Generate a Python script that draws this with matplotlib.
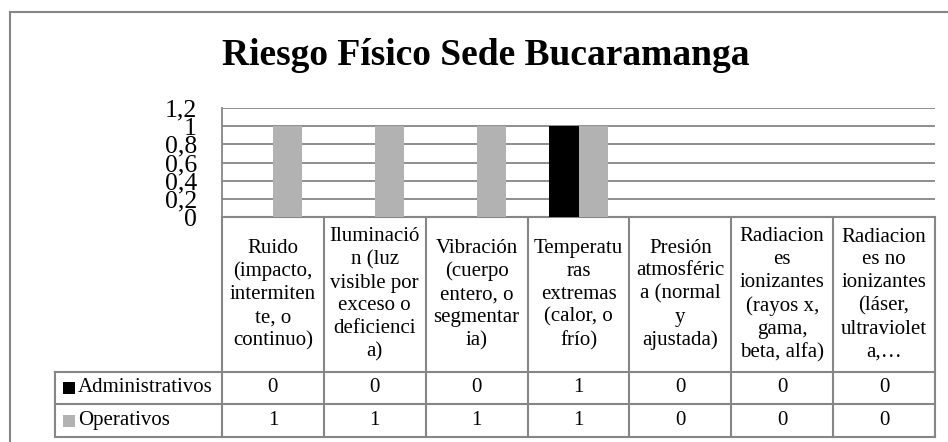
import matplotlib
matplotlib.use("Agg")
import matplotlib.pyplot as plt
from matplotlib import transforms
from matplotlib.lines import Line2D
from matplotlib.patches import Rectangle

# data
categories = [
    "Ruido\n(impacto,\nintermiten\nte, o\ncontinuo)",
    "Iluminació\nn (luz\nvisible por\nexceso o\ndeficienci\na)",
    "Vibración\n(cuerpo\nentero, o\nsegmentar\nia)",
    "Temperatu\nras\nextremas\n(calor, o\nfrío)",
    "Presión\natmosféric\na (normal\ny\najustada)",
    "Radiacion\nes\nionizantes\n(rayos x,\ngama,\nbeta, alfa)",
    "Radiacion\nes no\nionizantes\n(láser,\nultraviolet\na,…",
]
series_names = ["Administrativos", "Operativos"]
administrativos = [0, 0, 0, 1, 0, 0, 0]
operativos = [1, 1, 1, 1, 0, 0, 0]
yticks = [0, 0.2, 0.4, 0.6, 0.8, 1, 1.2]
ytick_labels = ["0", "0,2", "0,4", "0,6", "0,8", "1", "1,2"]
title = "Riesgo Físico Sede Bucaramanga"

colors = ["#000000", "#B2B2B2"]
line_col = "#868686"
serif = "Liberation Serif"

W, H = 948, 442
fig = plt.figure(figsize=(W / 100, H / 100), dpi=100)


def fx(x):
    return x / W


def fy(y):
    return 1 - y / H


# outer chart border (runs off the right and bottom edge)
fig.add_artist(Line2D([fx(10), 1], [fy(12), fy(12)], color=line_col, lw=1.5))
fig.add_artist(Line2D([fx(10), fx(10)], [fy(12), 0], color=line_col, lw=1.5))

fig.text(fx(486), fy(65), title, ha="center", va="baseline",
         family=serif, fontsize=27, fontweight="bold")

# plot area
left, right, top, bottom = 222, 935, 108, 217
ax = fig.add_axes([fx(left), fy(bottom), fx(right - left), (bottom - top) / H])
n = len(categories)
x = list(range(n))
w = 0.285
ax.bar([i - w / 2 for i in x], administrativos, w, color=colors[0], zorder=3)
ax.bar([i + w / 2 for i in x], operativos, w, color=colors[1], zorder=3)
ax.set_xlim(-0.5, n - 0.5)
ax.set_ylim(0, 1.2)
ax.set_yticks(yticks)
ax.set_yticklabels(ytick_labels, family=serif, fontsize=18.5)
ax.set_xticks([])
ax.tick_params(axis="y", length=0, pad=18)
ax.yaxis.grid(True, color=line_col, lw=1.3)
for s in ["top", "right", "bottom"]:
    ax.spines[s].set_visible(False)
ax.spines["left"].set_color(line_col)
ax.spines["left"].set_linewidth(1.3)

# data table under the plot
blend = transforms.blended_transform_factory(ax.transData, fig.transFigure)
row_tops = [217, 372, 404, 437]
leg_left = 55
tkw = dict(color=line_col, lw=1.5, clip_on=False)

ax.plot([-0.5, n - 0.5], [fy(row_tops[0])] * 2, transform=blend, **tkw)
for y in row_tops[1:]:
    fig.add_artist(Line2D([fx(leg_left), fx(right)], [fy(y), fy(y)], color=line_col, lw=1.5))
for k in range(n + 1):
    ax.plot([k - 0.5, k - 0.5], [fy(row_tops[0]), fy(row_tops[-1])], transform=blend, **tkw)
fig.add_artist(Line2D([fx(leg_left), fx(leg_left)], [fy(row_tops[1]), fy(row_tops[-1])],
                      color=line_col, lw=1.5))

hdr_mid = fy((row_tops[0] + row_tops[1]) / 2)
for i, cat in enumerate(categories):
    ax.text(i, hdr_mid, cat, transform=blend, ha="center", va="center",
            family=serif, fontsize=15, linespacing=1.28, clip_on=False)

for r, (name, vals) in enumerate(zip(series_names, [administrativos, operativos])):
    ymid = (row_tops[r + 1] + row_tops[r + 2]) / 2
    for i, v in enumerate(vals):
        ax.text(i, fy(ymid), str(v), transform=blend, ha="center", va="center",
                family=serif, fontsize=15, clip_on=False)
    fig.add_artist(Rectangle((fx(63), fy(ymid + 6)), fx(12), 12 / H,
                             color=colors[r], lw=0))
    fig.text(fx(78), fy(ymid), name, ha="left", va="center",
             family=serif, fontsize=15)

fig.savefig("out.png", dpi=100)
